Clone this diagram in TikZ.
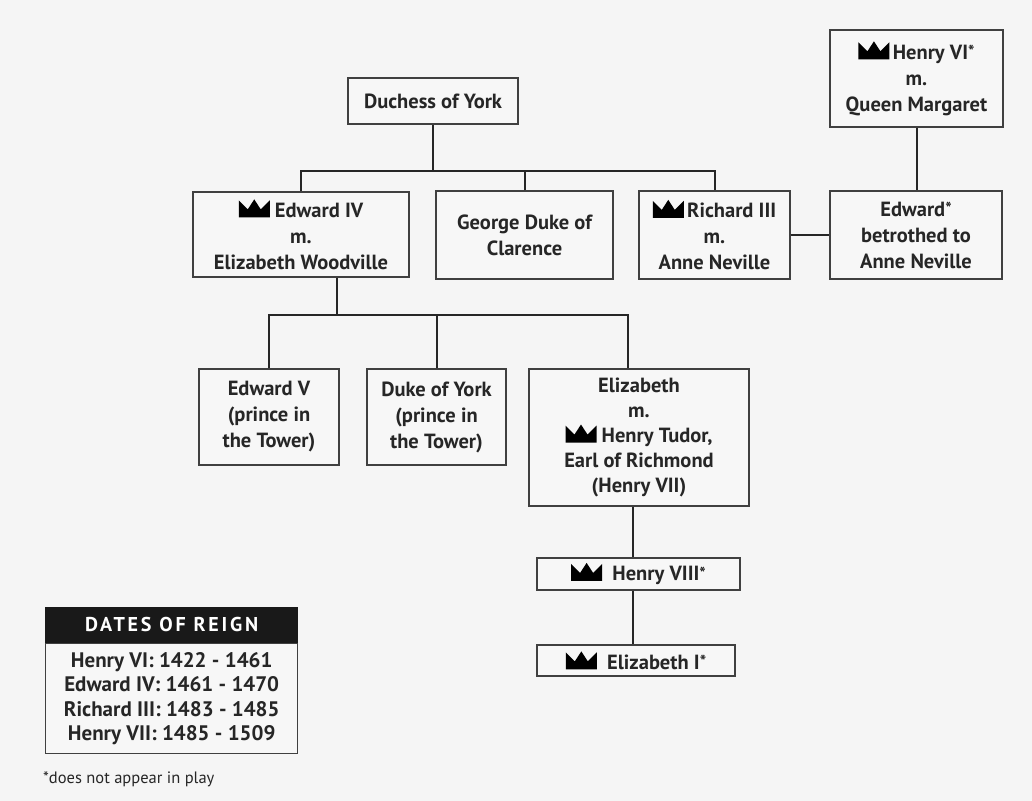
\documentclass[tikz,border=0pt]{standalone}
\usepackage{fontspec}
\setmainfont{PT Sans}
\newcommand\crownicon{\tikz[baseline=0pt,x=1bp,y=1bp]\fill[black] (0,0) -- (0,17) -- (9,8) -- (15.5,18) -- (22,8) -- (31,17) -- (31,0) -- cycle;}
\newcommand\nstar{\raisebox{0.15ex}{\fontsize{17bp}{17bp}\selectfont *}}
\begin{document}
\begin{tikzpicture}[x=1bp,y=-1bp,
  famlink/.style={draw=black!85,line width=2bp},
  person/.style={draw=black!75,line width=1.4bp,fill=white!97!black,align=center,inner sep=0pt,
     font=\bfseries\fontsize{20.5bp}{26bp}\selectfont,text=black!85}]
\useasboundingbox (0,0) rectangle (1032,801);
\fill[black!4] (0,0) rectangle (1032,801);
% persons
\node[person,minimum width=170bp,minimum height=46bp] (duchess) at (433,101) {Duchess of York};
\node[person,minimum width=173bp,minimum height=97bp] (henry6) at (916.5,78.5) {\crownicon\,Henry VI\nstar\\m.\\Queen Margaret};
\node[person,minimum width=216bp,minimum height=85bp] (edw4) at (301,234.5) {\crownicon\ Edward IV\\m.\\Elizabeth Woodville};
\node[person,minimum width=177bp,minimum height=88bp] (george) at (524.5,235) {George Duke of\\Clarence};
\node[person,minimum width=151bp,minimum height=88bp] (rich3) at (714.5,235) {\crownicon\,Richard III\\m.\\Anne Neville};
\node[person,minimum width=172bp,minimum height=88bp] (edwst) at (916,235) {Edward\nstar\\betrothed to\\Anne Neville};
\node[person,minimum width=140bp,minimum height=96bp] (edw5) at (269,417) {Edward V\\(prince in\\the Tower)};
\node[person,minimum width=139bp,minimum height=96bp] (yorkduke) at (436.5,417) {Duke of York\\(prince in\\the Tower)};
\node[person,minimum width=220bp,minimum height=137bp,font=\bfseries\fontsize{20.5bp}{25bp}\selectfont] (eliz) at (639,437.5) {Elizabeth\\m.\\\crownicon\ Henry Tudor,\\Earl of Richmond\\(Henry VII)};
\node[person,minimum width=203bp,minimum height=32bp] (henry8) at (638.5,574) {\crownicon\ \ Henry VIII\nstar};
\node[person,minimum width=198bp,minimum height=31bp] (eliz1) at (636,660.5) {\crownicon\ \ Elizabeth I\nstar};
% connectors
\coordinate (bar1) at (433,171);
\draw[famlink] (duchess.south) -- (bar1);
\draw[famlink] (edw4.north) -- (edw4.north |- bar1) -- (rich3.north |- bar1) -- (rich3.north);
\draw[famlink] (george.north) -- (george.north |- bar1);
\draw[famlink] (rich3.east) -- (edwst.west);
\draw[famlink] (henry6.south) -- (henry6.south |- edwst.north);
\coordinate (bar2) at (337,315);
\coordinate (bar2r) at (628,315);
\draw[famlink] (bar2 |- edw4.south) -- (bar2);
\draw[famlink] (edw5.north) -- (edw5.north |- bar2) -- (bar2r) -- (bar2r |- eliz.north);
\draw[famlink] (yorkduke.north) -- (yorkduke.north |- bar2);
\coordinate (c4) at (633,540);
\draw[famlink] (c4 |- eliz.south) -- (c4 |- henry8.north);
\draw[famlink] (c4 |- henry8.south) -- (c4 |- eliz1.north);
% legend
\node[draw=black!75,line width=1.4bp,fill=white!97!black,anchor=north west,minimum width=252bp,minimum height=110bp,inner sep=0pt,align=center,
  font=\bfseries\fontsize{21bp}{24.5bp}\selectfont,text=black!85] (legbody) at (45,643)
  {Henry VI: 1422 - 1461\\Edward IV: 1461 - 1470\\Richard III: 1483 - 1485\\Henry VII: 1485 - 1509};
\node[fill=black!90,draw=black!90,line width=1.4bp,anchor=south west,minimum width=252bp,minimum height=35bp,inner sep=0pt,
  text=white,font=\bfseries\fontsize{20bp}{22bp}\selectfont\addfontfeatures{LetterSpace=14}] (leghead) at (legbody.north west) {DATES OF REIGN};
\node[anchor=west,inner sep=0pt,font=\fontsize{16.5bp}{18bp}\selectfont,text=black!85] (note) at (43,779) {*does not appear in play};
\end{tikzpicture}
\end{document}
